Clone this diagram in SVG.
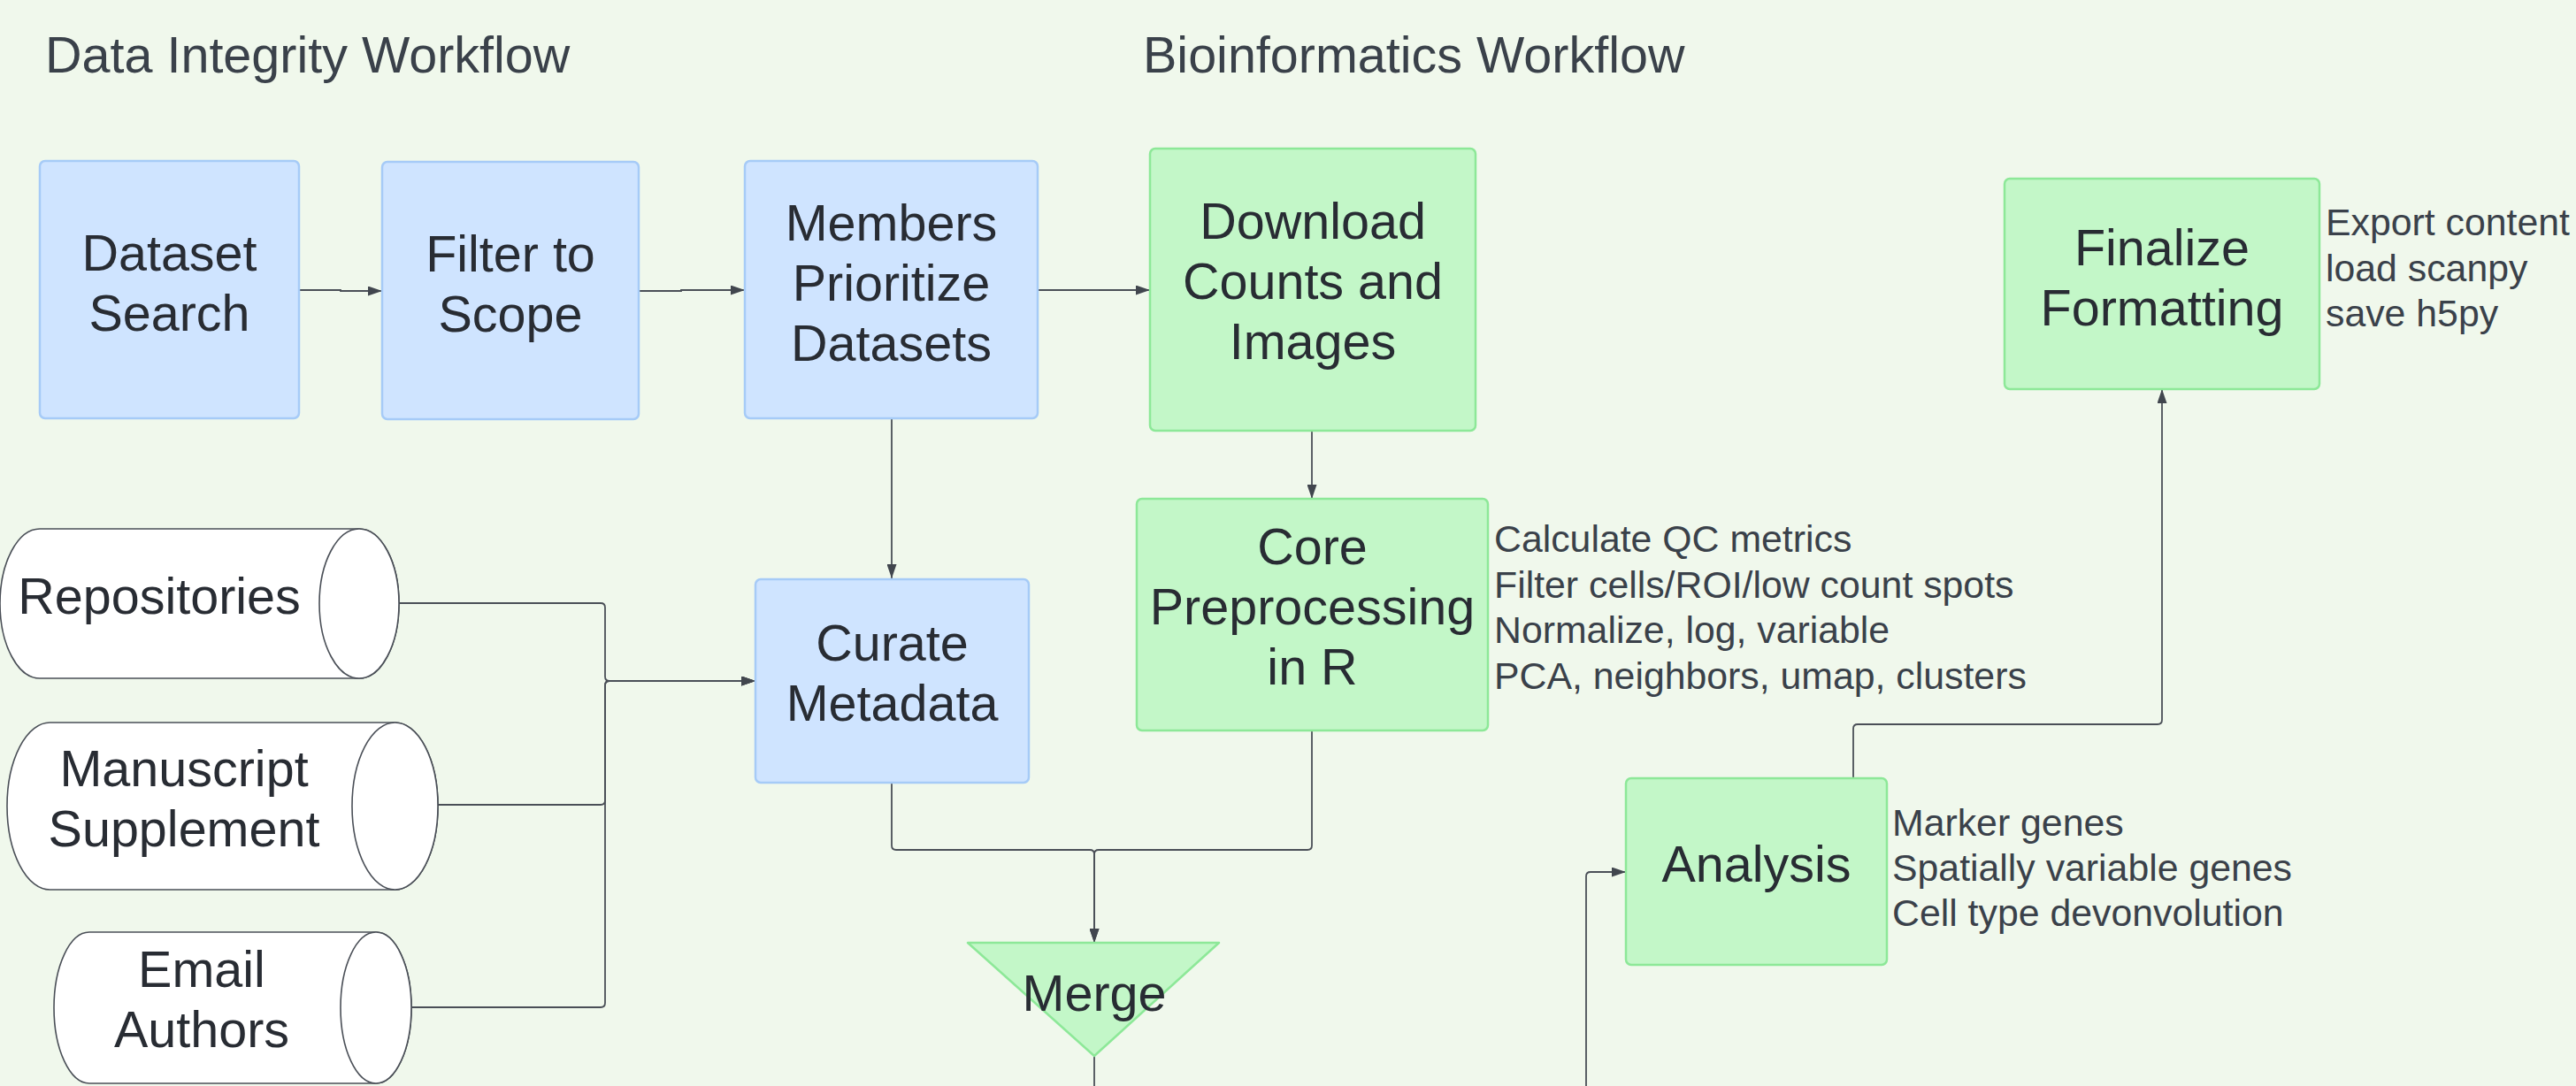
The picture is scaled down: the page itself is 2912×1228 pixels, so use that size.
<svg xmlns="http://www.w3.org/2000/svg" width="2912" height="1228" viewBox="0 0 2912 1228">
  <defs>
    <marker id="arrow" viewBox="0 0 16 11" refX="16" refY="5.5" markerWidth="16" markerHeight="11" markerUnits="userSpaceOnUse" orient="auto">
      <path d="M0,0 L16,5.5 L0,11 Z" fill="#41464e"/>
    </marker>
  </defs>
  <style>
    .title { font-family: "Liberation Sans", Arial, sans-serif; font-size: 57.5px; fill: #3a414a; }
    .lbl { font-family: "Liberation Sans", Arial, sans-serif; font-size: 57.5px; fill: #282c33; text-anchor: middle; }
    .note { font-family: "Liberation Sans", Arial, sans-serif; font-size: 42.8px; fill: #3a414a; }
    .blue { fill: #cfe4ff; stroke: #a6cbf7; stroke-width: 2.5; }
    .green { fill: #c3f7c8; stroke: #8de898; stroke-width: 2.5; }
    .cyl { fill: #ffffff; stroke: #4a4f57; stroke-width: 1.6; }
    .conn path { fill: none; stroke: #4a4f57; stroke-width: 1.8; }
    .conn path.a { marker-end: url(#arrow); }
  </style>

  <rect width="2912" height="1228" fill="#f0f8ec"/>

  <!-- section headings -->
  <text class="title" x="51" y="82">Data Integrity Workflow</text>
  <text class="title" x="1292" y="82">Bioinformatics Workflow</text>

  <!-- connectors -->
  <g id="connectors" class="conn">
    <path class="a" d="M338,328 H385 V329 H432"/>
    <path class="a" d="M722,329 H770 V328 H842"/>
    <path class="a" d="M1173,328 H1300"/>
    <path class="a" d="M1008,473 V654"/>
    <path class="a" d="M1483,487 V564"/>
    <path class="a" d="M451,682 H679 Q684,682 684,687 V765 Q684,770 689,770 H854"/>
    <path class="a" d="M495,910 H679 Q684,910 684,905 V775 Q684,770 689,770 H854"/>
    <path class="a" d="M465,1139 H679 Q684,1139 684,1134 V775 Q684,770 689,770 H854"/>
    <path class="a" d="M1008,885 V956 Q1008,961 1013,961 H1232 Q1237,961 1237,966 V1066"/>
    <path class="a" d="M1483,826 V956 Q1483,961 1478,961 H1242 Q1237,961 1237,966 V1066"/>
    <path d="M1237,1194 V1228"/>
    <path class="a" d="M1793,1228 V991 Q1793,986 1798,986 H1838"/>
    <path class="a" d="M2095,880 V824 Q2095,819 2100,819 H2439 Q2444,819 2444,814 V440"/>
  </g>

  <!-- data integrity nodes -->
  <g id="dataset-search">
    <rect class="blue" x="45" y="182" width="293" height="291" rx="6"/>
    <text class="lbl" x="191.5" y="306">Dataset</text>
    <text class="lbl" x="191.5" y="374">Search</text>
  </g>
  <g id="filter-to-scope">
    <rect class="blue" x="432" y="183" width="290" height="291" rx="6"/>
    <text class="lbl" x="577" y="307">Filter to</text>
    <text class="lbl" x="577" y="375">Scope</text>
  </g>
  <g id="members-prioritize">
    <rect class="blue" x="842" y="182" width="331" height="291" rx="6"/>
    <text class="lbl" x="1007.5" y="272">Members</text>
    <text class="lbl" x="1007.5" y="340">Prioritize</text>
    <text class="lbl" x="1007.5" y="408">Datasets</text>
  </g>
  <g id="curate-metadata">
    <rect class="blue" x="854" y="655" width="309" height="230" rx="6"/>
    <text class="lbl" x="1008.5" y="747">Curate</text>
    <text class="lbl" x="1008.5" y="815">Metadata</text>
  </g>

  <!-- metadata sources -->
  <g id="repositories">
    <path class="cyl" d="M45,598 H406 A45,84.5 0 0 1 406,767 H45 A45,84.5 0 0 1 45,598 Z"/>
    <ellipse class="cyl" cx="406" cy="682.5" rx="45" ry="84.5"/>
    <text class="lbl" x="180" y="694">Repositories</text>
  </g>
  <g id="manuscript-supplement">
    <path class="cyl" d="M56.5,817 H446.5 A48.5,94.5 0 0 1 446.5,1006 H56.5 A48.5,94.5 0 0 1 56.5,817 Z"/>
    <ellipse class="cyl" cx="446.5" cy="911.5" rx="48.5" ry="94.5"/>
    <text class="lbl" x="208" y="889">Manuscript</text>
    <text class="lbl" x="208" y="957">Supplement</text>
  </g>
  <g id="email-authors">
    <path class="cyl" d="M101,1054 H425 A40,85.5 0 0 1 425,1225 H101 A40,85.5 0 0 1 101,1054 Z"/>
    <ellipse class="cyl" cx="425" cy="1139.5" rx="40" ry="85.5"/>
    <text class="lbl" x="228" y="1116">Email</text>
    <text class="lbl" x="228" y="1184">Authors</text>
  </g>

  <!-- bioinformatics nodes -->
  <g id="download-counts">
    <rect class="green" x="1300" y="168" width="368" height="319" rx="6"/>
    <text class="lbl" x="1484" y="270">Download</text>
    <text class="lbl" x="1484" y="338">Counts and</text>
    <text class="lbl" x="1484" y="406">Images</text>
  </g>
  <g id="core-preprocessing">
    <rect class="green" x="1285" y="564" width="397" height="262" rx="6"/>
    <text class="lbl" x="1483.5" y="638">Core</text>
    <text class="lbl" x="1483.5" y="706">Preprocessing</text>
    <text class="lbl" x="1483.5" y="774">in R</text>
    <text class="note" x="1689" y="624">Calculate QC metrics</text>
    <text class="note" x="1689" y="676">Filter cells/ROI/low count spots</text>
    <text class="note" x="1689" y="727">Normalize, log, variable</text>
    <text class="note" x="1689" y="779">PCA, neighbors, umap, clusters</text>
  </g>
  <g id="merge">
    <path class="green" d="M1094,1066 H1378 L1237,1194 Z" stroke-linejoin="round"/>
    <text class="lbl" x="1237" y="1143">Merge</text>
  </g>
  <g id="analysis">
    <rect class="green" x="1838" y="880" width="295" height="211" rx="6"/>
    <text class="lbl" x="1985.5" y="997">Analysis</text>
    <text class="note" x="2139" y="945">Marker genes</text>
    <text class="note" x="2139" y="996">Spatially variable genes</text>
    <text class="note" x="2139" y="1047">Cell type devonvolution</text>
  </g>
  <g id="finalize-formatting">
    <rect class="green" x="2266" y="202" width="356" height="238" rx="6"/>
    <text class="lbl" x="2444" y="300">Finalize</text>
    <text class="lbl" x="2444" y="368">Formatting</text>
    <text class="note" x="2629" y="266">Export content</text>
    <text class="note" x="2629" y="318">load scanpy</text>
    <text class="note" x="2629" y="369">save h5py</text>
  </g>
</svg>
